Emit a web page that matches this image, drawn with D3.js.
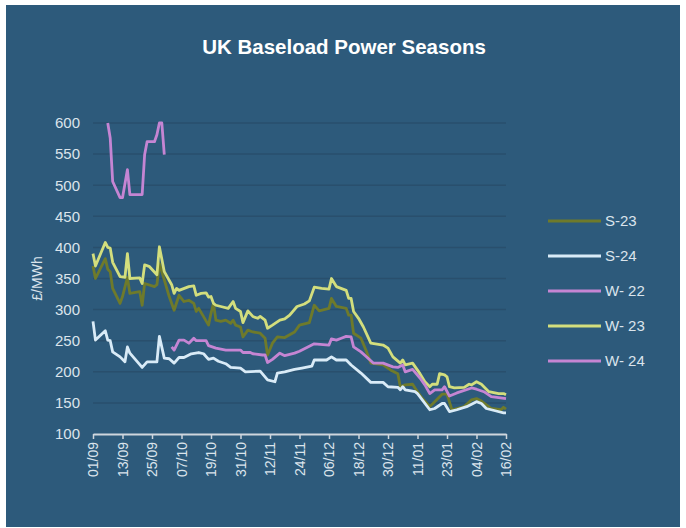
<!DOCTYPE html>
<html>
<head>
<meta charset="utf-8">
<script src="https://cdn.jsdelivr.net/npm/d3@7"></script>
<style>
  body { margin: 0; background: #ffffff; }
  #chart { width: 686px; height: 528px; }
  text { font-family: "Liberation Sans", Arial, sans-serif; }
</style>
</head>
<body>
<div id="chart"></div>
<script>
// series data, dates are trading days
const s23Dates = ["2022-09-01","2022-09-02","2022-09-06","2022-09-07","2022-09-08","2022-09-09","2022-09-12","2022-09-13","2022-09-15","2022-09-16","2022-09-20","2022-09-21","2022-09-22","2022-09-26","2022-09-27","2022-09-28","2022-09-30","2022-10-02","2022-10-04","2022-10-06","2022-10-08","2022-10-10","2022-10-12","2022-10-13","2022-10-14","2022-10-18","2022-10-19","2022-10-20","2022-10-21","2022-10-23","2022-10-25","2022-10-27","2022-10-28","2022-10-29","2022-10-31","2022-11-01","2022-11-03","2022-11-05","2022-11-08","2022-11-10","2022-11-11","2022-11-13","2022-11-15","2022-11-18","2022-11-22","2022-11-24","2022-11-28","2022-11-30","2022-12-02","2022-12-06","2022-12-07","2022-12-09","2022-12-13","2022-12-14","2022-12-15","2022-12-16","2022-12-19","2022-12-21","2022-12-23","2022-12-28","2022-12-31","2023-01-03","2023-01-04","2023-01-06","2023-01-09","2023-01-11","2023-01-13","2023-01-16","2023-01-18","2023-01-21","2023-01-23","2023-01-25","2023-01-27","2023-01-30","2023-02-02","2023-02-04","2023-02-06","2023-02-10","2023-02-14","2023-02-15","2023-02-16"];
const s23Values = [370,350,382,365,361,334,310,321,352,326,329,307,342,337,340,374,348,321,299,323,313,315,310,297,302,275,294,310,283,281,283,278,283,275,272,256,267,264,262,254,227,246,256,255,264,275,279,307,298,302,318,305,302,291,291,262,254,235,214,211,203,197,176,179,180,168,157,144,152,164,164,139,141,144,155,157,153,141,139,143,140];

const s24Dates = ["2022-09-01","2022-09-02","2022-09-06","2022-09-07","2022-09-08","2022-09-09","2022-09-12","2022-09-14","2022-09-15","2022-09-16","2022-09-21","2022-09-23","2022-09-27","2022-09-28","2022-09-30","2022-10-02","2022-10-04","2022-10-06","2022-10-08","2022-10-11","2022-10-14","2022-10-16","2022-10-18","2022-10-20","2022-10-22","2022-10-25","2022-10-27","2022-10-31","2022-11-02","2022-11-08","2022-11-11","2022-11-14","2022-11-15","2022-11-18","2022-11-22","2022-11-25","2022-11-29","2022-11-30","2022-12-05","2022-12-07","2022-12-09","2022-12-13","2022-12-15","2022-12-19","2022-12-23","2022-12-28","2022-12-30","2023-01-03","2023-01-04","2023-01-05","2023-01-06","2023-01-10","2023-01-11","2023-01-16","2023-01-18","2023-01-21","2023-01-22","2023-01-24","2023-01-27","2023-01-31","2023-02-04","2023-02-06","2023-02-08","2023-02-12","2023-02-15","2023-02-16"];
const s24Values = [281,251,266,251,250,232,224,216,240,230,207,216,216,257,222,221,214,223,223,229,231,229,220,222,217,213,207,206,200,201,187,184,198,200,204,206,209,219,219,224,219,219,211,198,183,183,176,175,171,176,171,168,165,139,141,149,149,136,139,144,152,149,141,137,134,134];

const w22Dates = ["2022-09-07","2022-09-08","2022-09-09","2022-09-12","2022-09-13","2022-09-15","2022-09-16","2022-09-21","2022-09-22","2022-09-23","2022-09-26","2022-09-27","2022-09-28","2022-09-29","2022-09-30"];
const w22Values = [600,576,506,480,480,525,485,485,549,570,570,581,600,600,549];

const w23Dates = ["2022-09-01","2022-09-02","2022-09-06","2022-09-07","2022-09-08","2022-09-09","2022-09-12","2022-09-14","2022-09-15","2022-09-16","2022-09-20","2022-09-21","2022-09-22","2022-09-24","2022-09-27","2022-09-28","2022-09-30","2022-10-03","2022-10-04","2022-10-05","2022-10-06","2022-10-10","2022-10-12","2022-10-13","2022-10-15","2022-10-17","2022-10-18","2022-10-19","2022-10-20","2022-10-21","2022-10-23","2022-10-26","2022-10-28","2022-10-29","2022-10-31","2022-11-01","2022-11-03","2022-11-05","2022-11-07","2022-11-08","2022-11-10","2022-11-11","2022-11-13","2022-11-16","2022-11-18","2022-11-20","2022-11-23","2022-11-26","2022-11-28","2022-11-30","2022-12-03","2022-12-06","2022-12-07","2022-12-09","2022-12-13","2022-12-14","2022-12-15","2022-12-16","2022-12-18","2022-12-20","2022-12-23","2022-12-28","2022-12-30","2023-01-01","2023-01-04","2023-01-05","2023-01-06","2023-01-09","2023-01-12","2023-01-14","2023-01-16","2023-01-17","2023-01-19","2023-01-20","2023-01-22","2023-01-23","2023-01-24","2023-01-26","2023-01-30","2023-02-01","2023-02-02","2023-02-04","2023-02-06","2023-02-09","2023-02-13","2023-02-15","2023-02-16"];
const w23Values = [390,370,408,400,399,376,353,352,390,350,351,342,372,369,356,401,361,340,326,334,331,337,338,323,326,327,320,321,310,307,305,302,313,302,297,279,298,289,286,289,283,270,275,283,285,291,305,309,314,336,334,333,350,337,331,318,318,297,286,272,246,243,238,224,214,219,211,214,197,184,176,180,180,197,195,192,176,174,175,180,179,184,180,168,165,165,163];

const w24Dates = ["2022-10-03","2022-10-04","2022-10-06","2022-10-08","2022-10-10","2022-10-12","2022-10-13","2022-10-17","2022-10-18","2022-10-21","2022-10-25","2022-10-31","2022-11-01","2022-11-04","2022-11-05","2022-11-09","2022-11-10","2022-11-11","2022-11-13","2022-11-16","2022-11-18","2022-11-22","2022-11-24","2022-11-30","2022-12-06","2022-12-07","2022-12-09","2022-12-11","2022-12-13","2022-12-15","2022-12-16","2022-12-19","2022-12-21","2022-12-24","2022-12-28","2023-01-01","2023-01-03","2023-01-05","2023-01-06","2023-01-09","2023-01-12","2023-01-14","2023-01-16","2023-01-18","2023-01-21","2023-01-22","2023-01-24","2023-01-27","2023-02-02","2023-02-04","2023-02-07","2023-02-10","2023-02-16"];
const w24Values = [240,235,251,251,246,254,250,250,242,238,235,235,231,231,229,227,227,215,220,230,226,230,233,245,243,253,251,254,257,256,240,232,225,214,214,208,207,211,200,204,190,179,165,171,171,176,161,166,174,172,168,160,157];

const seriesNames = ["S-23", "S-24", "W- 22", "W- 23", "W- 24"];
const seriesColors = ["#6e7a2b", "#d9ebf7", "#c585d3", "#d3de7d", "#c585d3"];
const yTicks = [100, 150, 200, 250, 300, 350, 400, 450, 500, 550, 600];
const xTickLabels = ["01/09","13/09","25/09","07/10","19/10","31/10","12/11","24/11","06/12","18/12","30/12","11/01","23/01","04/02","16/02"];

const width = 686, height = 528;
const margin = { top: 123, right: 180, bottom: 94, left: 93 };

const parse = d3.timeParse("%Y-%m-%d");
const parseTick = (s) => {
  const [dd, mm] = s.split("/").map(Number);
  return new Date(mm >= 9 ? 2022 : 2023, mm - 1, dd);
};

const allSeries = [
  [s23Dates, s23Values],
  [s24Dates, s24Values],
  [w22Dates, w22Values],
  [w23Dates, w23Values],
  [w24Dates, w24Values]
].map(([ds, vs], i) => ({
  name: seriesNames[i],
  color: seriesColors[i],
  values: ds.map((d, j) => ({ date: parse(d), value: vs[j] }))
}));

const svg = d3.select('#chart')
  .append('svg')
  .attr('width', width)
  .attr('height', height);

// panel
svg.append('rect')
  .attr('x', 6).attr('y', 5)
  .attr('width', 674).attr('height', 522)
  .attr('fill', '#2d5a7b');

const tickDates = xTickLabels.map(parseTick);

const x = d3.scaleTime()
  .domain([tickDates[0], tickDates[tickDates.length - 1]])
  .range([margin.left, width - margin.right]);

const y = d3.scaleLinear()
  .domain([100, 600])
  .range([height - margin.bottom, margin.top]);

// gridlines
svg.append('g')
  .selectAll('line')
  .data(yTicks.slice(1))
  .enter()
  .append('line')
  .attr('x1', margin.left)
  .attr('x2', width - margin.right)
  .attr('y1', d => y(d))
  .attr('y2', d => y(d))
  .attr('stroke', '#294f6d')
  .attr('stroke-width', 1.5);

// y axis labels (no axis line)
const yAxis = d3.axisLeft(y).tickValues(yTicks).tickSize(0).tickPadding(13);
const gy = svg.append('g')
  .attr('transform', `translate(${margin.left},0)`)
  .call(yAxis);
gy.select('.domain').remove();
gy.selectAll('text')
  .attr('fill', '#dbe4ec')
  .style('font-size', '15px');

// x axis
const xAxis = d3.axisBottom(x)
  .tickValues(tickDates)
  .tickFormat(d3.timeFormat('%d/%m'))
  .tickSize(5)
  .tickSizeOuter(0);
const gx = svg.append('g')
  .attr('transform', `translate(0,${height - margin.bottom})`)
  .call(xAxis);
gx.select('.domain').attr('stroke', '#cfd6dd').attr('stroke-width', 2);
gx.selectAll('.tick line').attr('stroke', '#cfd6dd').attr('stroke-width', 1.5);
gx.selectAll('text')
  .attr('fill', '#dbe4ec')
  .style('font-size', '14px')
  .attr('text-anchor', 'end')
  .attr('transform', 'rotate(-90)')
  .attr('x', -8)
  .attr('y', 0)
  .attr('dy', '0.35em');

// y axis title
svg.append('text')
  .attr('transform', `translate(42,${(margin.top + height - margin.bottom) / 2}) rotate(-90)`)
  .attr('text-anchor', 'middle')
  .attr('fill', '#dbe4ec')
  .style('font-size', '14px')
  .text('£/MWh');

// title
svg.append('text')
  .attr('x', 344)
  .attr('y', 54)
  .attr('text-anchor', 'middle')
  .attr('fill', '#ffffff')
  .style('font-size', '20.5px')
  .style('font-weight', 'bold')
  .text('UK Baseload Power Seasons');

// lines
const line = d3.line()
  .x(d => x(d.date))
  .y(d => y(d.value));

svg.append('g')
  .selectAll('path')
  .data(allSeries)
  .enter()
  .append('path')
  .attr('d', d => line(d.values))
  .attr('fill', 'none')
  .attr('stroke', d => d.color)
  .attr('stroke-width', 2.8)
  .attr('stroke-linejoin', 'round');

// legend
const legend = svg.append('g')
  .selectAll('g')
  .data(allSeries)
  .enter()
  .append('g')
  .attr('transform', (d, i) => `translate(548,${221 + i * 35})`);

legend.append('line')
  .attr('x1', 0).attr('x2', 53)
  .attr('stroke', d => d.color)
  .attr('stroke-width', 3);

legend.append('text')
  .attr('x', 57)
  .attr('dy', '0.35em')
  .attr('fill', '#dbe4ec')
  .style('font-size', '15px')
  .text(d => d.name);
</script>
</body>
</html>
